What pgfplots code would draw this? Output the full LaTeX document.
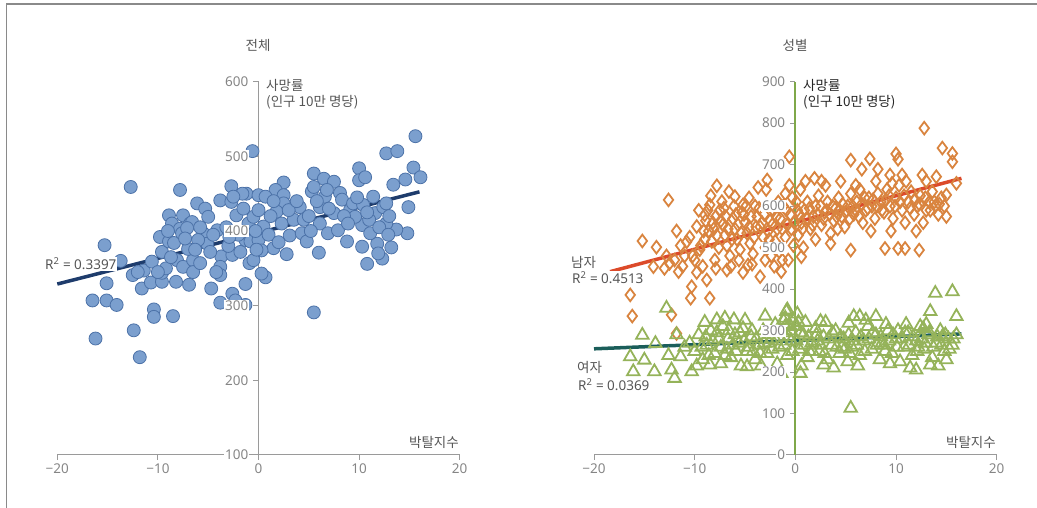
\documentclass[border=0pt]{standalone}
\usepackage{fontspec}
\setmainfont{Noto Sans}
\newfontfamily\kr{Noto Sans CJK KR}
\usepackage{pgfplots}
\pgfplotsset{compat=1.18}
\definecolor{axgray}{HTML}{9A9A9A}
\definecolor{tickgray}{HTML}{858585}
\definecolor{labgray}{HTML}{555555}
\definecolor{framegray}{HTML}{8A8A8A}
\definecolor{bluefill}{HTML}{7B9FCE}
\definecolor{blueedge}{HTML}{4C72A8}
\definecolor{navy}{HTML}{1E3C6C}
\definecolor{orangem}{HTML}{D9843F}
\definecolor{redline}{HTML}{DC4A2A}
\definecolor{greenf}{HTML}{95B35A}
\definecolor{tealline}{HTML}{1B5E5A}
\definecolor{greenv}{HTML}{7FA84A}
\pgfplotsset{myax/.style={scale only axis, axis on top, axis x line=bottom, axis y line=middle,
  axis line style={draw=axgray, line width=1pt, -},
  every inner y axis line/.append style={-},
  xmin=-20, xmax=20, xtick={-20,-10,0,10,20}, xticklabels={−20,−10,0,10,20},
  tick style={draw=axgray, line width=1pt}, major tick length=5pt, tick align=outside,
  ticklabel style={font=\fontsize{13.5}{16}\selectfont, text=tickgray},
  yticklabels={}, yticklabel style={text opacity=0},
  /pgf/number format/assume math mode=true, clip=false}}
\tikzset{ylab/.style={anchor=east, font=\fontsize{13.5}{16}\selectfont, text=tickgray, fill=white, inner sep=1pt}}
\newcommand{\fs}{\fontsize{13.5}{16.6}\selectfont}
\begin{document}
\begin{tikzpicture}
\path[use as bounding box] (0pt,0pt) rectangle (1037pt,508pt);
\draw[framegray, line width=1.5pt] (6.5pt,0pt) -- (6.5pt,504pt) -- (1037pt,504pt);
\begin{axis}[myax, at={(57.3pt,53pt)}, anchor=south west, width=402.4pt, height=373.3pt,
  ymin=100, ymax=600, ytick={100,200,300,400,500,600}]
\addplot[only marks, mark=*, mark size=6.5pt, mark options={fill=bluefill, draw=blueedge, line width=0.8pt}] coordinates {
(15.6,527)(-0.6,507)(12.7,504)(13.8,507)(-12.7,459)(-7.8,455)(15.4,485)(16.1,472)(14.6,469)(10.0,484)
(10.0,468)(10.6,472)(5.5,477)(6.5,470)(7.5,466)(2.5,465)(1.7,455)(-2.7,460)(-1.2,450)(13.4,462)
(14.9,432)(14.8,397)(13.7,402)(13.2,378)(12.3,363)(10.8,356)(10.3,379)(11.8,383)(8.8,386)(6.0,371)
(2.8,369)(1.5,377)(0.7,338)(0.3,343)(-1.3,329)(-2.6,316)(-2.3,307)(-3.8,304)(-1.3,301)(5.5,291)
(-4.7,323)(-6.9,328)(-8.2,332)(-8.5,286)(-10.4,295)(-10.4,285)(-12.4,267)(-11.8,231)(-16.2,256)(-16.5,307)
(-15.1,307)(-14.1,301)(-15.1,330)(-15.3,381)(-13.7,360)(-12.5,341)(-11.6,323)(-11.4,347)(-10.7,331)(-9.6,332)
(-9.6,344)(-10.6,359)(-9.6,372)(-9.8,392)(-8.9,386)(-8.4,384)(-8.9,421)(-7.5,421)(-8.6,410)(-7.8,403)
(-7.6,397)(-6.8,410)(-6.6,412)(-7.1,404)(-8.1,361)(-7.5,352)(-6.5,361)(-6.5,345)(-5.8,357)(-5.5,397)
(-5.1,383)(-6.1,437)(-5.3,430)(-5.0,419)(-4.1,401)(-3.8,441)(-2.7,439)(-2.2,421)(-3.7,366)(-3.8,352)
(-3.8,341)(-2.6,368)(-1.8,372)(-1.3,388)(-0.9,357)(-0.5,361)(-0.8,386)(-1.0,410)(-0.5,419)(-1.6,450)
(-2.5,446)(0.0,448)(0.7,446)(0.0,428)(0.5,406)(0.0,388)(0.3,374)(2.5,448)(2.5,437)(1.8,426)
(2.3,410)(3.1,394)(3.5,415)(4.1,432)(4.3,397)(4.8,386)(5.3,453)(5.5,459)(6.1,432)(6.6,446)
(6.1,410)(6.9,397)(7.5,424)(8.1,451)(8.3,442)(7.9,401)(9.1,428)(9.4,437)(10.3,408)(11.1,397)
(11.4,446)(11.6,424)(12.4,432)(12.7,410)(12.7,437)(10.4,435)(9.6,419)(11.9,370)
(-4.5,395)(-3.2,405)(-2.0,395)(-1.5,430)(-0.3,400)(1.2,420)(1.0,395)(2.0,385)(3.0,428)(4.5,415)
(5.0,420)(5.8,440)(7.0,430)(8.5,420)(9.8,445)(11.0,415)(12.0,405)(13.0,420)(-6.0,388)(-7.0,376)
(-4.8,372)(-3.0,380)(-5.8,405)(-6.3,375)(-9.2,350)(-8.7,365)(-10.0,345)(-12.0,345)(-9.0,400)(-4.2,345)
(3.8,440)(6.8,455)(8.9,410)(12.9,395)(-2.9,392)(-0.2,375)(1.5,440)(5.2,400)(10.8,425)(-7.3,390)
};
\addplot[navy, line width=3.5pt] coordinates {(-20,329)(16,452.5)};
\end{axis}
\begin{axis}[myax, at={(594pt,53pt)}, anchor=south west, width=402.7pt, height=373.3pt,
  ymin=0, ymax=900, ytick={0,100,200,300,400,500,600,700,800,900},
  y axis line style={draw=greenv, line width=1.8pt}]
\addplot[only marks, mark=diamond, mark size=6.3pt, mark options={draw=orangem, line width=1.8pt, fill=none}] coordinates {
(12.8,788)(-0.6,719)(14.6,740)(15.6,727)(15.6,707)(10.0,726)(10.2,713)(5.5,711)(7.4,714)(6.6,689)
(8.2,689)(16.0,655)(15.0,627)(15.0,575)(14.0,671)(12.6,675)(10.6,675)(9.4,675)(9.6,655)(5.5,494)
(8.9,498)(10.2,498)(10.9,498)(12.3,494)(0.6,478)(1.9,667)(2.6,660)(-2.8,663)(-3.7,645)(-7.8,649)
(-12.6,615)(-15.2,516)(-13.8,501)(-14.1,454)(-12.5,462)(-16.4,386)(-16.2,335)(-11.8,293)(-12.3,338)(-10.4,378)
(-10.3,406)(-8.5,378)(-8.8,422)(-11.6,442)(-10.8,514)(-9.8,551)(-9.0,579)(-8.5,603)(-7.3,611)(-6.0,623)
(-5.2,603)(-6.8,446)(-4.7,458)(-3.5,430)(-1.4,442)(-1.3,470)
(-11.0,480)(-10.0,470)(-9.5,495)(-9.0,520)(-8.6,540)(-8.2,560)(-7.9,575)(-7.5,590)(-7.2,555)(-7.0,530)
(-6.8,505)(-6.5,480)(-6.2,570)(-6.0,545)(-5.8,520)(-5.5,495)(-5.3,585)(-5.0,560)(-4.8,535)(-4.5,510)
(-4.2,485)(-4.0,600)(-3.8,575)(-3.5,550)(-3.2,525)(-3.0,500)(-2.7,540)(-2.5,565)(-2.2,590)(-2.0,515)
(-1.8,545)(-1.5,570)(-1.2,600)(-1.0,525)(-0.8,555)(-0.5,580)(-0.3,620)(-0.2,505)(-8.0,470)(-7.6,500)
(-9.2,455)(-6.4,455)(-5.6,470)(-3.0,470)(-2.4,480)(-1.6,490)(-12.0,470)(-13.0,450)(-11.4,505)(-8.4,625)
(-6.6,635)(-4.6,620)(-2.9,640)(-1.0,630)(-9.6,590)(-10.5,525)
(0.3,530)(0.6,560)(0.9,590)(1.2,610)(1.5,545)(1.8,575)(2.0,600)(2.3,625)(2.6,555)(2.9,585)
(3.2,610)(3.5,535)(3.8,565)(4.0,595)(4.3,620)(4.6,575)(4.9,550)(5.2,600)(5.5,630)(5.8,580)
(6.1,610)(6.4,640)(6.7,560)(7.0,590)(7.3,620)(7.6,600)(7.9,570)(8.2,630)(8.5,610)(8.8,585)
(9.1,640)(9.4,600)(9.7,570)(10.0,620)(10.3,650)(10.6,590)(10.9,560)(11.2,610)(11.5,635)(11.8,580)
(12.1,600)(12.4,625)(12.7,560)(13.0,590)(13.3,610)(13.6,635)(13.9,600)(14.2,580)(14.5,620)(14.8,600)
(0.5,640)(1.0,660)(3.0,650)(4.5,660)(6.0,650)(8.0,660)(11.0,660)(13.0,660)(0.2,590)(0.8,500)
(2.0,520)(3.5,510)(7.5,540)(9.5,540)(12.0,540)(4.2,545)(-0.6,650)(-1.7,610)
(-9.4,505)(-9.1,540)(-8.9,565)(-8.7,590)(-8.3,515)(-8.1,545)(-7.8,530)(-7.4,565)(-7.1,595)(-6.9,575)
(-6.7,545)(-6.3,520)(-6.1,600)(-5.9,580)(-5.7,555)(-5.4,535)(-5.1,580)(-4.9,600)(-4.6,550)(-4.4,575)
(-4.1,525)(-3.9,550)(-3.6,595)(-3.3,560)(-3.1,580)(-2.6,520)(-2.3,555)(-1.9,575)(-1.3,545)(-0.9,590)
(-0.4,545)(-0.1,560)(0.1,610)(0.4,580)(0.7,545)(1.1,570)(1.4,595)(1.7,555)(2.2,580)(2.5,600)
(2.8,570)(3.1,590)(3.4,580)(3.7,600)(4.1,575)(4.4,590)(4.7,605)(5.0,585)(5.4,570)(5.7,600)
(6.0,590)(6.3,575)(6.6,605)(6.9,620)(7.2,595)(7.7,615)(8.1,600)(8.6,590)(9.0,615)(9.3,625)
(9.9,600)(10.4,610)(10.8,625)(11.4,595)(11.9,615)(12.3,605)(12.9,620)(13.4,590)(13.8,610)(14.3,605)
(-10.2,480)(-11.2,455)(-9.8,440)(-7.9,450)(-5.2,440)(-2.1,455)(-0.7,470)(-4.3,460)(-11.8,540)(-12.8,480)
};
\addplot[only marks, mark=triangle, mark size=7.2pt, mark options={draw=greenf, line width=1.8pt, fill=none}] coordinates {
(5.5,113)(13.9,390)(15.6,394)(13.4,346)(16.0,334)(-12.8,354)(-15.2,289)(-16.4,237)(-16.1,201)(-15.0,229)
(-14.0,201)(-12.0,185)(-12.3,205)(-11.4,237)(-10.3,201)(-13.9,269)(-8.5,217)(-7.8,326)(-6.1,326)(-4.8,213)
(-1.4,197)(0.5,197)(2.8,217)(5.8,334)(6.4,334)(8.0,334)(12.0,205)(13.4,217)(2.5,322)(5.3,318)
(-0.9,346)(0.2,340)(12.7,305)
(-10.5,270)(-10.0,250)(-9.6,290)(-9.2,230)(-8.8,265)(-8.4,300)(-8.0,245)(-7.6,280)(-7.2,310)(-6.8,255)
(-6.4,235)(-6.0,290)(-5.6,270)(-5.2,305)(-4.8,250)(-4.4,285)(-4.0,230)(-3.6,265)(-3.2,300)(-2.8,245)
(-2.4,280)(-2.0,315)(-1.6,260)(-1.2,295)(-0.8,240)(-0.4,275)(0,310)(0.4,255)(0.8,290)(1.2,235)
(1.6,270)(2.0,305)(2.4,250)(2.8,285)(3.2,230)(3.6,265)(4.0,300)(4.4,245)(4.8,280)(5.2,225)
(5.6,260)(6.0,295)(6.4,240)(6.8,275)(7.2,310)(7.6,255)(8.0,290)(8.4,230)(8.8,265)(9.2,300)
(9.6,245)(10.0,280)(10.4,225)(10.8,260)(11.2,295)(11.6,240)(12.0,275)(12.4,310)(12.8,255)(13.2,290)
(13.6,235)(14.0,270)(14.4,300)(14.8,250)(15.2,280)(15.6,265)(16.0,290)
(-9.0,320)(-7.0,330)(-5.0,325)(-3.0,335)(-1.0,330)(-0.6,315)(-0.2,325)(1.0,320)(3.0,320)(7.0,325)
(9.0,315)(11.0,315)(13.0,315)(-9.8,215)(-7.4,220)(-5.4,215)(-3.4,215)(-1.8,220)(0.6,215)(3.8,210)
(6.2,215)(9.4,220)(11.4,210)(14.2,215)(15.0,230)(-11.0,260)(-12.6,240)(-11.8,290)(1.4,250)(4.6,260)
(8.6,270)(12.2,260)(-6.6,300)(-2.6,270)(-4.2,250)(2.2,275)(5.4,245)(10.2,300)(14.6,285)
(-9.3,260)(-8.9,285)(-8.6,240)(-8.2,275)(-7.8,295)(-7.4,260)(-7.0,240)(-6.7,280)(-6.2,265)(-5.9,250)
(-5.5,295)(-5.1,275)(-4.7,260)(-4.3,300)(-3.9,280)(-3.5,245)(-3.1,270)(-2.7,290)(-2.3,255)(-1.9,275)
(-1.5,300)(-1.1,265)(-0.7,285)(-0.3,250)(0.1,275)(0.5,295)(0.9,265)(1.3,285)(1.7,250)(2.1,290)
(2.5,265)(2.9,245)(3.3,280)(3.7,295)(4.1,260)(4.5,285)(4.9,255)(5.3,290)(5.7,275)(6.1,265)
(6.5,285)(6.9,250)(7.3,280)(7.7,295)(8.1,265)(8.5,285)(8.9,250)(9.3,275)(9.7,290)(10.1,260)
(10.5,280)(10.9,295)(11.3,265)(11.7,285)(12.1,250)(12.5,280)(12.9,270)(13.3,295)(13.7,260)(14.1,285)
(14.5,265)(14.9,290)(15.3,255)(15.7,280)(-1.0,310)(-0.5,300)(0.3,320)(-0.8,350)(-1.2,325)
};
\addplot[redline, line width=3.5pt] coordinates {(-18.4,442)(16.5,667)};
\addplot[tealline, line width=3.5pt] coordinates {(-20,256)(16.5,292)};
\end{axis}
% y tick labels drawn on top of the marks
\node[ylab] at (249.5pt,53pt) {100};
\node[ylab] at (249.5pt,127.66pt) {200};
\node[ylab] at (249.5pt,202.32pt) {300};
\node[ylab] at (249.5pt,276.98pt) {400};
\node[ylab] at (249.5pt,351.64pt) {500};
\node[ylab] at (249.5pt,426.3pt) {600};
\node[ylab] at (786.4pt,53pt) {0};
\node[ylab] at (786.4pt,94.48pt) {100};
\node[ylab] at (786.4pt,135.96pt) {200};
\node[ylab] at (786.4pt,177.43pt) {300};
\node[ylab] at (786.4pt,218.91pt) {400};
\node[ylab] at (786.4pt,260.39pt) {500};
\node[ylab] at (786.4pt,301.87pt) {600};
\node[ylab] at (786.4pt,343.35pt) {700};
\node[ylab] at (786.4pt,384.82pt) {800};
\node[ylab] at (786.4pt,426.3pt) {900};
% titles and labels
\node[font=\kr\fs, text=labgray] at (258pt,463pt) {전체};
\node[font=\kr\fs, text=labgray] at (795pt,463pt) {성별};
\node[font=\kr\fs, text=labgray, anchor=north west, align=left, inner sep=0pt] at (266pt,429pt) {사망률\\(인구 10만 명당)};
\node[font=\kr\fs, text=black!85, anchor=north west, align=left, inner sep=0pt] at (803pt,429pt) {사망률\\(인구 10만 명당)};
\node[font=\kr\fs, text=labgray, anchor=east, inner sep=0pt] at (459pt,66pt) {박탈지수};
\node[font=\kr\fs, text=labgray, anchor=east, inner sep=0pt] at (996pt,66pt) {박탈지수};
\node[font=\fs, text=labgray, anchor=west, fill=white, inner sep=1pt] at (44pt,244pt) {R\textsuperscript{2} = 0.3397};
\node[font=\kr\fs, text=labgray, anchor=west, inner sep=0pt] at (571pt,246pt) {남자};
\node[font=\fs, text=labgray, anchor=west, fill=white, inner sep=1pt] at (571pt,230pt) {R\textsuperscript{2} = 0.4513};
\node[font=\kr\fs, text=labgray, anchor=west, inner sep=0pt] at (577pt,141pt) {여자};
\node[font=\fs, text=labgray, anchor=west, fill=white, inner sep=1pt] at (577pt,123pt) {R\textsuperscript{2} = 0.0369};
\end{tikzpicture}
\end{document}
